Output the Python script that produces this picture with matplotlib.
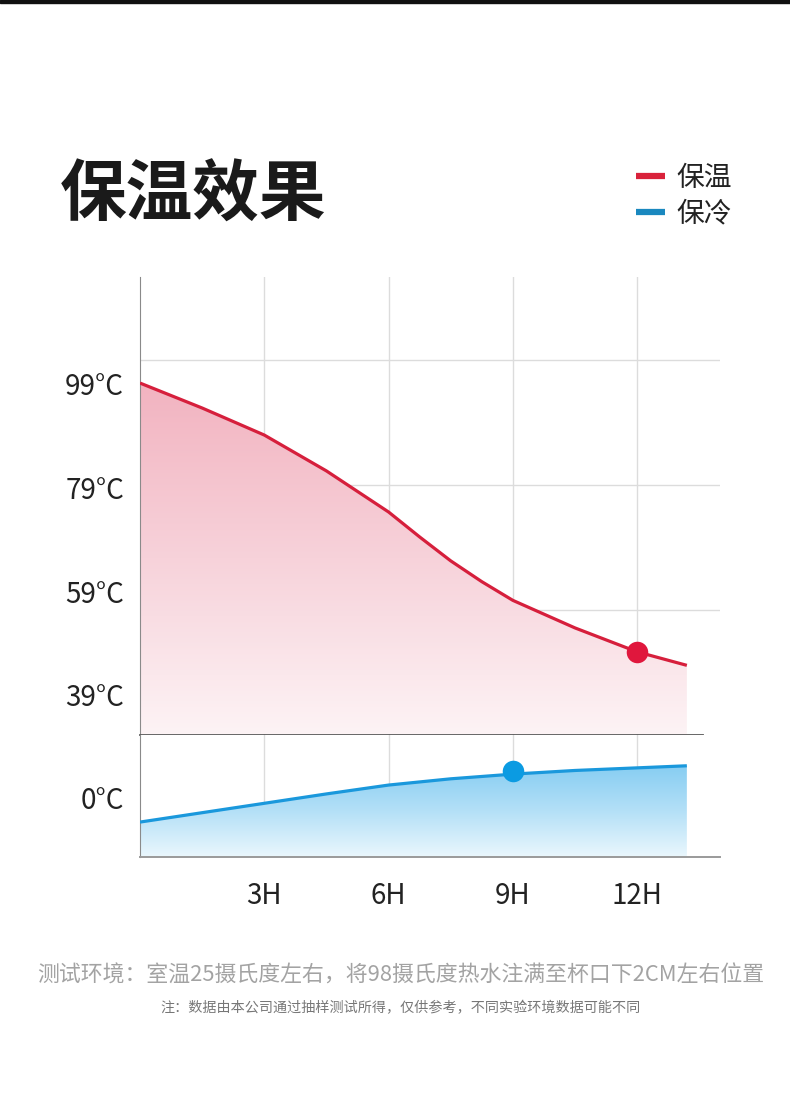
import numpy as np
import matplotlib.pyplot as plt
from matplotlib.colors import LinearSegmentedColormap
from matplotlib.lines import Line2D
from matplotlib.patches import Rectangle

plt.rcParams['font.family'] = ['Noto Sans CJK SC', 'DejaVu Sans']

# values
hours_hot = [0, 1.5, 3, 4.5, 6, 6.75, 7.5, 8.25, 9, 10.5, 12, 13.2]
temp_hot = [99.0, 94.2, 89.0, 82.1, 74.2, 69.4, 64.8, 60.8, 57.2, 51.9, 47.3, 44.7]
hours_cold = [0, 1.5, 3, 4.5, 6, 7.5, 9, 10.5, 12, 13.2]
temp_cold = [-4.8, -3.0, -1.2, 0.6, 2.3, 3.5, 4.4, 5.1, 5.6, 6.0]
hot_mark = 12      # hour of the red dot
cold_mark = 9      # hour of the blue dot

x_ticks = [3, 6, 9, 12]
x_labels = ['3H', '6H', '9H', '12H']
hot_ticks = [99, 79, 59, 39]
hot_grid = [103.4, 79.4, 55.3]
cold_ticks = [0]

RED = '#d61f3c'
BLUE = '#1a98dc'


def gradient_fill(ax, x, y, base, stops):
    poly = ax.fill_between(x, y, base, color='none', lw=0)
    path = poly.get_paths()[0]
    cmap = LinearSegmentedColormap.from_list('g', stops)
    grad = np.linspace(0, 1, 256).reshape(-1, 1)
    im = ax.imshow(grad, cmap=cmap, aspect='auto', origin='lower',
                   extent=[min(x), max(x), base, max(y)], zorder=1)
    im.set_clip_path(path, transform=ax.transData)


fig = plt.figure(figsize=(7.9, 11.02), dpi=100)
fig.patches.append(Rectangle((0, 1 - 3 / 1102), 1, 3 / 1102, transform=fig.transFigure,
                             color='#111111', zorder=5))

ax_hot = fig.add_axes([140 / 790, 1 - 734.5 / 1102, 580 / 790, 457.5 / 1102])
ax_cold = fig.add_axes([140 / 790, 1 - 857 / 1102, 580 / 790, 122.5 / 1102])

hot_lim = (31.4, 119.4)
cold_lim = (-11.5, 12.0)

# hot panel
gradient_fill(ax_hot, hours_hot, temp_hot, hot_lim[0], ['#fdf3f5', '#f7d2da', '#f2b3c0'])
ax_hot.plot(hours_hot, temp_hot, color=RED, lw=2.3, zorder=3, solid_capstyle='butt',
            solid_joinstyle='round')
ax_hot.plot([hot_mark], [temp_hot[hours_hot.index(hot_mark)]], 'o', color='#e0173d',
            ms=15.5, mec='none', zorder=4)
ax_hot.set_xlim(0, 14)
ax_hot.set_ylim(*hot_lim)
ax_hot.set_xticks(x_ticks)
ax_hot.set_xticklabels([])
ax_hot.set_yticks(hot_ticks)
ax_hot.set_yticklabels([f'{t}°C' for t in hot_ticks], fontweight='light')
ax_hot.set_yticks(hot_grid, minor=True)
ax_hot.grid(axis='x', color='#dcdcdc', lw=1)
ax_hot.grid(axis='y', which='minor', color='#dcdcdc', lw=1)
ax_hot.tick_params(axis='both', which='both', length=0)
ax_hot.tick_params(axis='y', pad=11.5, labelsize=20, labelcolor='#222222')
ax_hot.spines[['top', 'right']].set_visible(False)
ax_hot.spines['left'].set_color('#8a8a8a')
ax_hot.spines['bottom'].set_color('#5a5a5a')
ax_hot.spines['bottom'].set_linewidth(1.3)
ax_hot.spines['bottom'].set_bounds(0, 13.6)
ax_hot.set_axisbelow(True)

# cold panel
gradient_fill(ax_cold, hours_cold, temp_cold, cold_lim[0], ['#eaf7fd', '#b4e0f7', '#86cdf2'])
ax_cold.plot(hours_cold, temp_cold, color=BLUE, lw=2.3, zorder=3, solid_capstyle='butt',
             solid_joinstyle='round')
ax_cold.plot([cold_mark], [temp_cold[hours_cold.index(cold_mark)] + 0.6], 'o', color='#0b9be2',
             ms=15.5, mec='none', zorder=4)
ax_cold.set_xlim(0, 14)
ax_cold.set_ylim(*cold_lim)
ax_cold.set_xticks(x_ticks)
ax_cold.set_xticklabels(x_labels, fontweight='light')
ax_cold.set_yticks(cold_ticks)
ax_cold.set_yticklabels([f'{t}°C' for t in cold_ticks], fontweight='light')
ax_cold.grid(axis='x', color='#dcdcdc', lw=1)
ax_cold.tick_params(axis='both', length=0, labelsize=20, labelcolor='#222222')
ax_cold.tick_params(axis='y', pad=11.5)
ax_cold.tick_params(axis='x', pad=17)
ax_cold.spines[['top', 'right']].set_visible(False)
ax_cold.spines['left'].set_color('#8a8a8a')
ax_cold.spines['bottom'].set_color('#9a9a9a')
ax_cold.spines['bottom'].set_linewidth(1.4)
ax_cold.set_axisbelow(True)

# title and legend
fig.text(60 / 790, 1 - 196 / 1102, '保温效果', fontsize=48, fontweight='bold',
         color='#1a1a1a', va='center', ha='left')
handles = [Line2D([], [], color='#d9223b', lw=4.5, solid_capstyle='butt'),
           Line2D([], [], color='#1a88bf', lw=4.5, solid_capstyle='butt')]
fig.legend(handles, ['保温', '保冷'], loc='upper left', bbox_to_anchor=(636 / 790, 1 - 163 / 1102),
           frameon=False, handlelength=1.05, handletextpad=0.4,
           labelspacing=0.2, borderpad=0, borderaxespad=0, labelcolor='#222222',
           prop={'size': 20, 'weight': 'light'})

# footnotes
fig.text(401 / 790, 1 - 976 / 1102, '测试环境：室温25摄氏度左右，将98摄氏度热水注满至杯口下2CM左右位置',
         fontsize=15.75, color='#a3a3a3', ha='center', va='center', fontweight='light')
fig.text(401 / 790, 1 - 1008 / 1102, '注：数据由本公司通过抽样测试所得，仅供参考，不同实验环境数据可能不同',
         fontsize=10.15, color='#777777', ha='center', va='center', fontweight='light')

fig.savefig('out.png', dpi=100, facecolor='white')
